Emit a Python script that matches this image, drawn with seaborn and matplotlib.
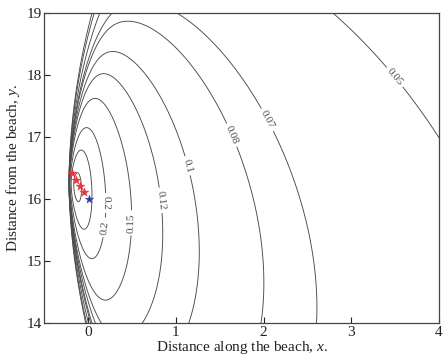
import numpy as np
import pandas as pd
import matplotlib
matplotlib.use("Agg")
import matplotlib.pyplot as plt
import seaborn as sns

# ---- data ----
plain_levels = [0.02, 0.03, 0.3, 0.4, 0.5, 0.7, 1.0]
label_levels = [0.05, 0.07, 0.08, 0.1, 0.12, 0.15, 0.2, 0.25]
label_x = [3.48, 2.0, 1.58, 1.08, 0.8, 0.47, 0.22, 0.13]
label_y = [17.95, 17.25, 17.0, 16.52, 15.98, 15.62, 15.54, 15.94]
est_x = [-0.19, -0.14, -0.095, -0.044]     # estimated sources (red)
est_y = [16.42, 16.31, 16.22, 16.12]
true_x = [0.008]                             # true source (blue)
true_y = [16.0]
x_ticks = [0, 1, 2, 3, 4]
y_ticks = [14, 15, 16, 17, 18, 19]

# plume-field parameters (fitted to contour positions)
Q = np.exp(-2.0828)
P_EXP = 0.5546
KAPPA = np.exp(1.7578)
Y_C = 16.2246
M1, M2 = 0.7439, -0.0163
Q_EXP = 1.1074
BETA = 0.0313
EPS = np.exp(-2.4918)
XW, YW = -0.22, 16.35


def field(x, y):
    s = x - XW
    sw = s - BETA * (y - YW) ** 2
    sp = np.maximum(s, 1e-6)
    swp = np.maximum(sw, 1e-6)
    wc = Y_C - M1 * sp - M2 * sp ** 2
    val = Q * sp ** (-P_EXP) * np.exp(-(y - wc) ** 2 / (4 * KAPPA * sp ** Q_EXP)) * (1 - np.exp(-swp / EPS))
    return np.where(sw > 1e-4, val, 0.0)


sns.set_style("white")
plt.rcParams['font.family'] = ['Liberation Serif']
plt.rcParams['mathtext.fontset'] = 'custom'
plt.rcParams['mathtext.it'] = 'Liberation Serif:italic'
plt.rcParams['mathtext.rm'] = 'Liberation Serif'

fig = plt.figure(figsize=(4.48, 3.58), dpi=100)
ax = fig.add_axes([0.099, 0.097, 0.881, 0.866])

xg = np.linspace(-0.5, 4, 900)
yg = np.linspace(14, 19, 700)
X, Y = np.meshgrid(xg, yg)
Z = field(X, Y)

ax.contour(X, Y, Z, levels=plain_levels, colors='#4a4a4a', linewidths=0.65)
cs = ax.contour(X, Y, Z, levels=label_levels, colors='#4a4a4a', linewidths=0.65)
try:
    ax.clabel(cs, manual=list(zip(label_x, label_y)), inline=True, fmt='%g',
              fontsize=8, inline_spacing=3)
except Exception:
    ax.clabel(cs, inline=True, fmt='%g', fontsize=8)

est = pd.DataFrame({"x": est_x, "y": est_y})
tru = pd.DataFrame({"x": true_x, "y": true_y})
sns.scatterplot(data=est, x="x", y="y", ax=ax, marker='*', s=45, color='#e8353b',
                edgecolor='#e8353b', linewidth=0.3, zorder=5)
sns.scatterplot(data=tru, x="x", y="y", ax=ax, marker='*', s=40, color='#2b3aa8',
                edgecolor='#2b3aa8', linewidth=0.3, zorder=5)

ax.set_xlim(-0.5, 4)
ax.set_ylim(14, 19)
ax.set_xticks(x_ticks)
ax.set_yticks(y_ticks)
ax.tick_params(direction='in', length=4, width=0.8, labelsize=11, colors='#222222', pad=2,
               bottom=True, left=True, top=False, right=False)
for sp in ax.spines.values():
    sp.set_color('#444444')
    sp.set_linewidth(0.9)
ax.set_xlabel('Distance along the beach, $x$.', fontsize=11, labelpad=0, color='#222222')
ax.set_ylabel('Distance from the beach, $y$.', fontsize=11, labelpad=3, color='#222222')

fig.savefig("out.png")
